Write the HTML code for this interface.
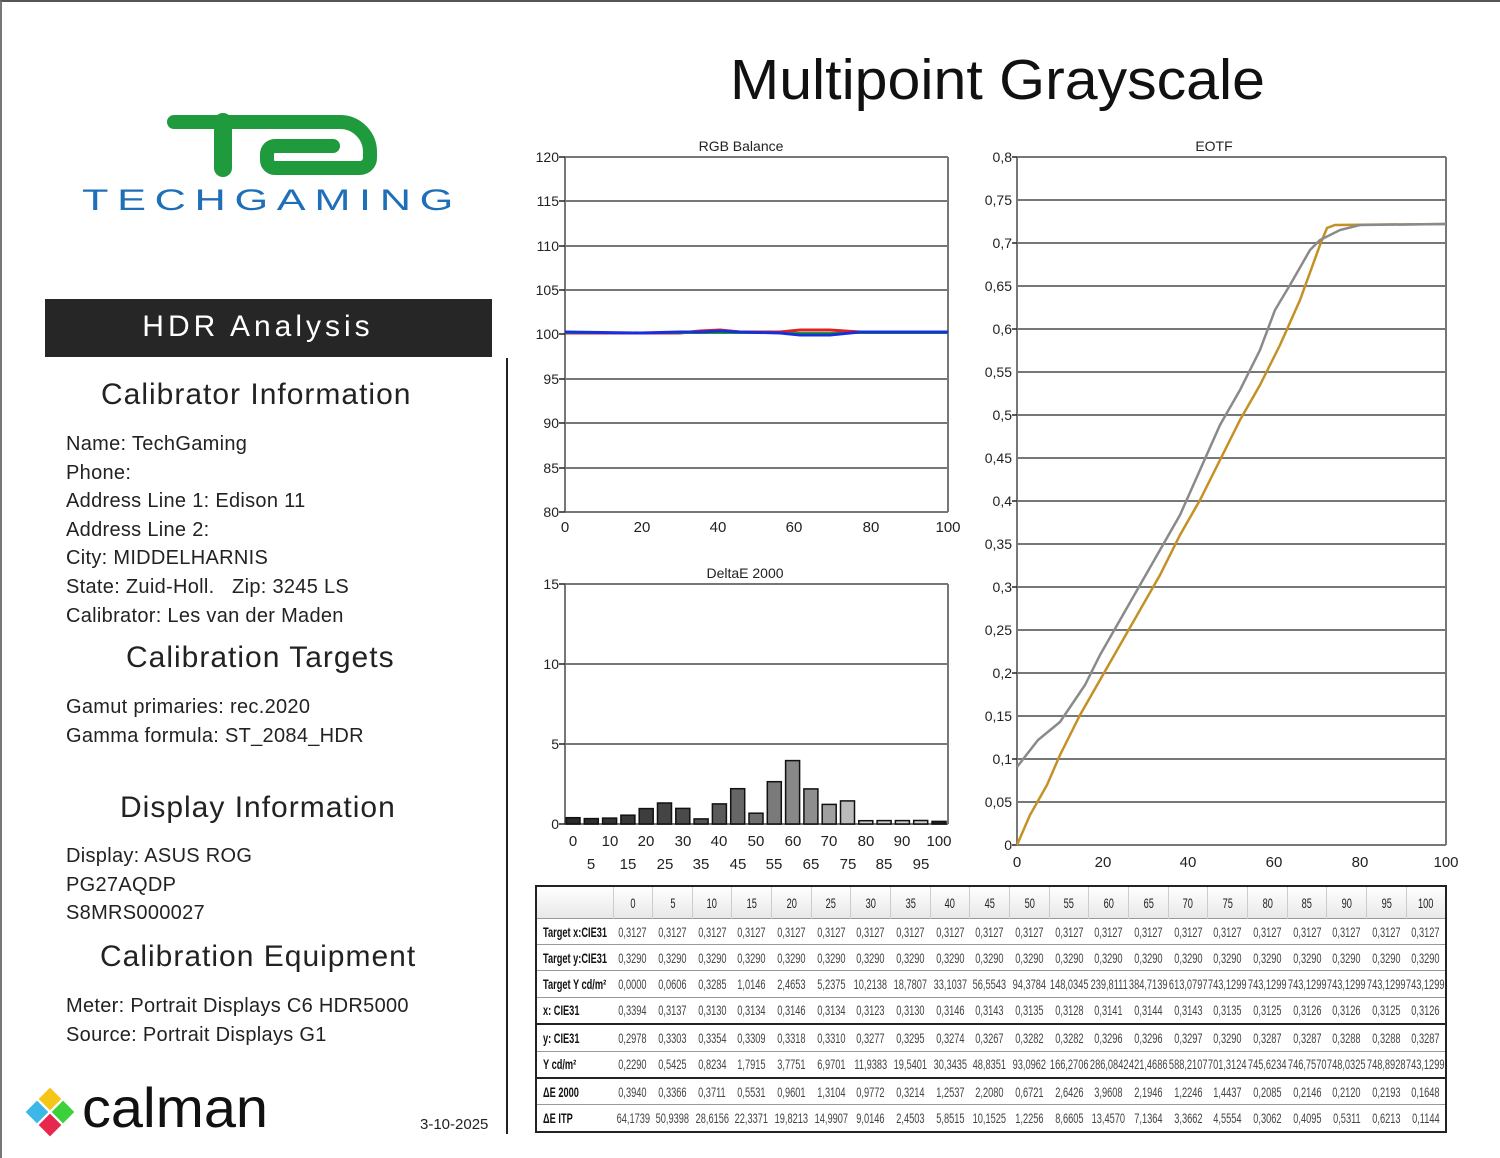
<!DOCTYPE html>
<html><head><meta charset="utf-8"><style>
html,body{margin:0;padding:0;background:#fff;}
body{width:1500px;height:1158px;position:relative;overflow:hidden;font-family:"Liberation Sans",sans-serif;}
#pg{position:absolute;left:0;top:0;width:1500px;height:1158px;border-top:2px solid #555;border-left:2px solid #777;box-sizing:border-box;}
.t{position:absolute;white-space:nowrap;color:#111;}
.h{font-size:30px;color:#222;letter-spacing:1px;}
.b{font-size:20px;color:#222;line-height:28.6px;letter-spacing:0.3px;}
table{position:absolute;left:535px;top:885px;width:912px;height:248px;border-collapse:collapse;font-family:"Liberation Sans",sans-serif;font-size:14px;color:#444;border:2px solid #222;table-layout:fixed;}
td{border-top:1px solid #999;padding:0;text-align:center;white-space:nowrap;overflow:hidden;}
td span{display:inline-block;margin:0 -15px;transform:scaleX(0.66);}
td.l{font-weight:bold;color:#111;text-align:left;padding-left:6px;}
td.l span{margin:0;transform:scaleX(0.66);transform-origin:0 50%;}
tr.hd td{background:linear-gradient(#fff,#e8e8e8);border-left:1px solid #ccc;color:#222;height:31px;}
tr.k td{border-top:2px solid #222;}
</style></head><body>
<div id="pg"></div>
<svg width="1500" height="1158" style="position:absolute;left:0;top:0" font-family="Liberation Sans, sans-serif">
<path d="M174,122 H340 A30,30 0 0 1 370,152 V158 A10,10 0 0 1 360,168 H275 A8,8 0 0 1 267,160 V154 A8,8 0 0 1 275,146 H333" fill="none" stroke="#1f9a3c" stroke-width="14" stroke-linecap="round" stroke-linejoin="round"/>
<path d="M223,122 V168" fill="none" stroke="#1f9a3c" stroke-width="18" stroke-linecap="round"/>
<text x="272" y="210" font-size="30" fill="#1e6fb8" text-anchor="middle" letter-spacing="6" textLength="380" lengthAdjust="spacingAndGlyphs">TECHGAMING</text>
<rect x="45" y="299" width="447" height="58" fill="#262626"/>
<text x="258" y="336" font-size="30" fill="#fff" text-anchor="middle" letter-spacing="4">HDR Analysis</text>
<line x1="507" y1="358" x2="507" y2="1134" stroke="#222" stroke-width="2"/>
<g transform="translate(50,1112)">
<rect x="-8" y="-8" width="16" height="16" fill="#f5c518" transform="translate(0,-13) rotate(45)"/>
<rect x="-8" y="-8" width="16" height="16" fill="#3cb7e8" transform="translate(-13,0) rotate(45)"/>
<rect x="-8" y="-8" width="16" height="16" fill="#3bd13b" transform="translate(13,0) rotate(45)"/>
<rect x="-8" y="-8" width="16" height="16" fill="#e8274f" transform="translate(0,13) rotate(45)"/>
</g>
<text x="82" y="1127" font-size="56" fill="#111" textLength="186" lengthAdjust="spacingAndGlyphs">calman</text>
<text x="420" y="1129" font-size="15" fill="#222">3-10-2025</text>
<text x="730" y="99" font-size="57" fill="#111" textLength="535" lengthAdjust="spacingAndGlyphs">Multipoint Grayscale</text>

<text x="741" y="151" font-size="14" text-anchor="middle" fill="#222">RGB Balance</text>
<g stroke="#777" stroke-width="2">
<line x1="565" y1="157" x2="948" y2="157"/><line x1="565" y1="201" x2="948" y2="201"/><line x1="565" y1="246" x2="948" y2="246"/><line x1="565" y1="290" x2="948" y2="290"/><line x1="565" y1="379" x2="948" y2="379"/><line x1="565" y1="423" x2="948" y2="423"/><line x1="565" y1="468" x2="948" y2="468"/><line x1="565" y1="512" x2="948" y2="512"/>
<line x1="565" y1="157" x2="565" y2="512"/><line x1="948" y1="157" x2="948" y2="512"/>
</g>
<g stroke="#222" stroke-width="1.5"><line x1="559" y1="157" x2="565" y2="157"/><line x1="559" y1="201" x2="565" y2="201"/><line x1="559" y1="246" x2="565" y2="246"/><line x1="559" y1="290" x2="565" y2="290"/><line x1="559" y1="334" x2="565" y2="334"/><line x1="559" y1="379" x2="565" y2="379"/><line x1="559" y1="423" x2="565" y2="423"/><line x1="559" y1="468" x2="565" y2="468"/><line x1="559" y1="512" x2="565" y2="512"/></g>
<g font-size="14" fill="#222" text-anchor="end"><text x="559" y="162">120</text><text x="559" y="206">115</text><text x="559" y="251">110</text><text x="559" y="295">105</text><text x="559" y="339">100</text><text x="559" y="384">95</text><text x="559" y="428">90</text><text x="559" y="473">85</text><text x="559" y="517">80</text></g>
<g font-size="15" fill="#222" text-anchor="middle"><text x="565" y="532">0</text><text x="642" y="532">20</text><text x="718" y="532">40</text><text x="794" y="532">60</text><text x="871" y="532">80</text><text x="948" y="532">100</text></g>
<polyline points="565,333 680,333 700,331 720,330 740,332 780,332 800,330 830,330 860,332 948,332" fill="none" stroke="#d22" stroke-width="3"/>
<polyline points="565,333 948,333" fill="none" stroke="#1a1" stroke-width="2"/>
<polyline points="565,332 640,333 680,332 700,332 720,331 740,332 780,333 800,335 830,335 860,332 948,332" fill="none" stroke="#1a2ee0" stroke-width="3"/>

<text x="745" y="578" font-size="14" text-anchor="middle" fill="#222">DeltaE 2000</text>
<g stroke="#777" stroke-width="2"><line x1="565" y1="584" x2="948" y2="584"/><line x1="565" y1="664" x2="948" y2="664"/><line x1="565" y1="744" x2="948" y2="744"/><line x1="565" y1="824" x2="948" y2="824"/><line x1="565" y1="584" x2="565" y2="824"/><line x1="948" y1="584" x2="948" y2="824"/></g>
<g stroke="#222" stroke-width="1.5"><line x1="559" y1="584" x2="565" y2="584"/><line x1="559" y1="664" x2="565" y2="664"/><line x1="559" y1="744" x2="565" y2="744"/><line x1="559" y1="824" x2="565" y2="824"/></g>
<g font-size="14" fill="#222" text-anchor="end"><text x="559" y="589">15</text><text x="559" y="669">10</text><text x="559" y="749">5</text><text x="559" y="829">0</text></g>
<g stroke="#111" stroke-width="1.5">
<rect x="566" y="817.7" width="14" height="6.3" fill="#2a2a2a"/>
<rect x="584.3" y="818.6" width="14" height="5.4" fill="#2e2e2e"/>
<rect x="602.6" y="818.1" width="14" height="5.9" fill="#333"/>
<rect x="620.9" y="815.2" width="14" height="8.8" fill="#383838"/>
<rect x="639.2" y="808.6" width="14" height="15.4" fill="#3d3d3d"/>
<rect x="657.5" y="803" width="14" height="21" fill="#444"/>
<rect x="675.8" y="808.4" width="14" height="15.6" fill="#4a4a4a"/>
<rect x="694.1" y="818.9" width="14" height="5.1" fill="#555"/>
<rect x="712.4" y="803.9" width="14" height="20.1" fill="#5a5a5a"/>
<rect x="730.7" y="788.7" width="14" height="35.3" fill="#666"/>
<rect x="749" y="813.2" width="14" height="10.8" fill="#6e6e6e"/>
<rect x="767.3" y="781.7" width="14" height="42.3" fill="#7a7a7a"/>
<rect x="785.6" y="760.6" width="14" height="63.4" fill="#888"/>
<rect x="803.9" y="788.9" width="14" height="35.1" fill="#8e8e8e"/>
<rect x="822.2" y="804.4" width="14" height="19.6" fill="#a0a0a0"/>
<rect x="840.5" y="800.9" width="14" height="23.1" fill="#bbb"/>
<rect x="858.8" y="820.7" width="14" height="3.3" fill="#ccc"/>
<rect x="877.1" y="820.6" width="14" height="3.4" fill="#ccc"/>
<rect x="895.4" y="820.6" width="14" height="3.4" fill="#ccc"/>
<rect x="913.7" y="820.5" width="14" height="3.5" fill="#ccc"/>
<rect x="932" y="821.4" width="14" height="2.6" fill="#222"/>
</g>
<g font-size="15" fill="#222" text-anchor="middle">
<text x="573" y="846">0</text><text x="610" y="846">10</text><text x="646" y="846">20</text><text x="683" y="846">30</text><text x="719" y="846">40</text><text x="756" y="846">50</text><text x="793" y="846">60</text><text x="829" y="846">70</text><text x="866" y="846">80</text><text x="902" y="846">90</text><text x="939" y="846">100</text>
<text x="591" y="869">5</text><text x="628" y="869">15</text><text x="665" y="869">25</text><text x="701" y="869">35</text><text x="738" y="869">45</text><text x="774" y="869">55</text><text x="811" y="869">65</text><text x="848" y="869">75</text><text x="884" y="869">85</text><text x="921" y="869">95</text>
</g>

<text x="1214" y="151" font-size="14" text-anchor="middle" fill="#222">EOTF</text>
<g stroke="#777" stroke-width="2">
<line x1="1017" y1="157" x2="1446" y2="157"/><line x1="1017" y1="200" x2="1446" y2="200"/><line x1="1017" y1="243" x2="1446" y2="243"/><line x1="1017" y1="286" x2="1446" y2="286"/><line x1="1017" y1="329" x2="1446" y2="329"/><line x1="1017" y1="372" x2="1446" y2="372"/><line x1="1017" y1="415" x2="1446" y2="415"/><line x1="1017" y1="458" x2="1446" y2="458"/><line x1="1017" y1="501" x2="1446" y2="501"/><line x1="1017" y1="544" x2="1446" y2="544"/><line x1="1017" y1="587" x2="1446" y2="587"/><line x1="1017" y1="630" x2="1446" y2="630"/><line x1="1017" y1="673" x2="1446" y2="673"/><line x1="1017" y1="716" x2="1446" y2="716"/><line x1="1017" y1="759" x2="1446" y2="759"/><line x1="1017" y1="802" x2="1446" y2="802"/><line x1="1017" y1="845" x2="1446" y2="845"/>
<line x1="1017" y1="157" x2="1017" y2="845"/><line x1="1446" y1="157" x2="1446" y2="845"/>
</g>
<g stroke="#222" stroke-width="1.5"><line x1="1012" y1="157" x2="1017" y2="157"/><line x1="1012" y1="243" x2="1017" y2="243"/><line x1="1012" y1="329" x2="1017" y2="329"/><line x1="1012" y1="415" x2="1017" y2="415"/><line x1="1012" y1="501" x2="1017" y2="501"/><line x1="1012" y1="587" x2="1017" y2="587"/><line x1="1012" y1="673" x2="1017" y2="673"/><line x1="1012" y1="759" x2="1017" y2="759"/><line x1="1012" y1="845" x2="1017" y2="845"/></g>
<g font-size="14" fill="#222" text-anchor="end">
<text x="1012" y="162">0,8</text><text x="1012" y="205">0,75</text><text x="1012" y="248">0,7</text><text x="1012" y="291">0,65</text><text x="1012" y="334">0,6</text><text x="1012" y="377">0,55</text><text x="1012" y="420">0,5</text><text x="1012" y="463">0,45</text><text x="1012" y="506">0,4</text><text x="1012" y="549">0,35</text><text x="1012" y="592">0,3</text><text x="1012" y="635">0,25</text><text x="1012" y="678">0,2</text><text x="1012" y="721">0,15</text><text x="1012" y="764">0,1</text><text x="1012" y="807">0,05</text><text x="1012" y="850">0</text>
</g>
<g font-size="15" fill="#222" text-anchor="middle"><text x="1017" y="867">0</text><text x="1103" y="867">20</text><text x="1188" y="867">40</text><text x="1274" y="867">60</text><text x="1360" y="867">80</text><text x="1446" y="867">100</text></g>
<polyline points="1017,845 1030,815 1047,785 1060,755 1080,715 1100,680 1120,645 1140,610 1160,575 1180,535 1200,500 1220,460 1240,420 1260,385 1280,345 1300,300 1320,245 1327,228 1335,225 1446,224" fill="none" stroke="#c39126" stroke-width="2.5"/>
<polyline points="1017,767 1038,740 1060,722 1085,685 1100,655 1120,620 1140,585 1160,550 1180,515 1200,470 1220,425 1240,390 1260,350 1275,310 1290,285 1310,250 1320,240 1340,230 1360,225 1446,224" fill="none" stroke="#8a8a8a" stroke-width="2.5"/>
</svg>

<div class="t h" style="left:101px;top:378px">Calibrator Information</div>
<div class="t b" style="left:66px;top:430px">Name: TechGaming<br>Phone:<br>Address Line 1: Edison 11<br>Address Line 2:<br>City: MIDDELHARNIS<br>State: Zuid-Holl.&nbsp;&nbsp;&nbsp;Zip: 3245 LS<br>Calibrator: Les van der Maden</div>
<div class="t h" style="left:126px;top:641px">Calibration Targets</div>
<div class="t b" style="left:66px;top:693px">Gamut primaries: rec.2020<br>Gamma formula: ST_2084_HDR</div>
<div class="t h" style="left:120px;top:791px">Display Information</div>
<div class="t b" style="left:66px;top:842px">Display: ASUS ROG<br>PG27AQDP<br>S8MRS000027</div>
<div class="t h" style="left:100px;top:940px">Calibration Equipment</div>
<div class="t b" style="left:66px;top:992px">Meter: Portrait Displays C6 HDR5000<br>Source: Portrait Displays G1</div>

<table>
<colgroup><col style="width:77px"><col span="21"></colgroup>
<tr class="hd"><td style="border-left:none"></td><td><span>0</span></td><td><span>5</span></td><td><span>10</span></td><td><span>15</span></td><td><span>20</span></td><td><span>25</span></td><td><span>30</span></td><td><span>35</span></td><td><span>40</span></td><td><span>45</span></td><td><span>50</span></td><td><span>55</span></td><td><span>60</span></td><td><span>65</span></td><td><span>70</span></td><td><span>75</span></td><td><span>80</span></td><td><span>85</span></td><td><span>90</span></td><td><span>95</span></td><td><span>100</span></td></tr>
<tr><td class="l"><span>Target x:CIE31</span></td><td><span>0,3127</span></td><td><span>0,3127</span></td><td><span>0,3127</span></td><td><span>0,3127</span></td><td><span>0,3127</span></td><td><span>0,3127</span></td><td><span>0,3127</span></td><td><span>0,3127</span></td><td><span>0,3127</span></td><td><span>0,3127</span></td><td><span>0,3127</span></td><td><span>0,3127</span></td><td><span>0,3127</span></td><td><span>0,3127</span></td><td><span>0,3127</span></td><td><span>0,3127</span></td><td><span>0,3127</span></td><td><span>0,3127</span></td><td><span>0,3127</span></td><td><span>0,3127</span></td><td><span>0,3127</span></td></tr>
<tr><td class="l"><span>Target y:CIE31</span></td><td><span>0,3290</span></td><td><span>0,3290</span></td><td><span>0,3290</span></td><td><span>0,3290</span></td><td><span>0,3290</span></td><td><span>0,3290</span></td><td><span>0,3290</span></td><td><span>0,3290</span></td><td><span>0,3290</span></td><td><span>0,3290</span></td><td><span>0,3290</span></td><td><span>0,3290</span></td><td><span>0,3290</span></td><td><span>0,3290</span></td><td><span>0,3290</span></td><td><span>0,3290</span></td><td><span>0,3290</span></td><td><span>0,3290</span></td><td><span>0,3290</span></td><td><span>0,3290</span></td><td><span>0,3290</span></td></tr>
<tr><td class="l"><span>Target Y cd/m²</span></td><td><span>0,0000</span></td><td><span>0,0606</span></td><td><span>0,3285</span></td><td><span>1,0146</span></td><td><span>2,4653</span></td><td><span>5,2375</span></td><td><span>10,2138</span></td><td><span>18,7807</span></td><td><span>33,1037</span></td><td><span>56,5543</span></td><td><span>94,3784</span></td><td><span>148,0345</span></td><td><span>239,8111</span></td><td><span>384,7139</span></td><td><span>613,0797</span></td><td><span>743,1299</span></td><td><span>743,1299</span></td><td><span>743,1299</span></td><td><span>743,1299</span></td><td><span>743,1299</span></td><td><span>743,1299</span></td></tr>
<tr><td class="l"><span>x: CIE31</span></td><td><span>0,3394</span></td><td><span>0,3137</span></td><td><span>0,3130</span></td><td><span>0,3134</span></td><td><span>0,3146</span></td><td><span>0,3134</span></td><td><span>0,3123</span></td><td><span>0,3130</span></td><td><span>0,3146</span></td><td><span>0,3143</span></td><td><span>0,3135</span></td><td><span>0,3128</span></td><td><span>0,3141</span></td><td><span>0,3144</span></td><td><span>0,3143</span></td><td><span>0,3135</span></td><td><span>0,3125</span></td><td><span>0,3126</span></td><td><span>0,3126</span></td><td><span>0,3125</span></td><td><span>0,3126</span></td></tr>
<tr class="k"><td class="l"><span>y: CIE31</span></td><td><span>0,2978</span></td><td><span>0,3303</span></td><td><span>0,3354</span></td><td><span>0,3309</span></td><td><span>0,3318</span></td><td><span>0,3310</span></td><td><span>0,3277</span></td><td><span>0,3295</span></td><td><span>0,3274</span></td><td><span>0,3267</span></td><td><span>0,3282</span></td><td><span>0,3282</span></td><td><span>0,3296</span></td><td><span>0,3296</span></td><td><span>0,3297</span></td><td><span>0,3290</span></td><td><span>0,3287</span></td><td><span>0,3287</span></td><td><span>0,3288</span></td><td><span>0,3288</span></td><td><span>0,3287</span></td></tr>
<tr><td class="l"><span>Y cd/m²</span></td><td><span>0,2290</span></td><td><span>0,5425</span></td><td><span>0,8234</span></td><td><span>1,7915</span></td><td><span>3,7751</span></td><td><span>6,9701</span></td><td><span>11,9383</span></td><td><span>19,5401</span></td><td><span>30,3435</span></td><td><span>48,8351</span></td><td><span>93,0962</span></td><td><span>166,2706</span></td><td><span>286,0842</span></td><td><span>421,4686</span></td><td><span>588,2107</span></td><td><span>701,3124</span></td><td><span>745,6234</span></td><td><span>746,7570</span></td><td><span>748,0325</span></td><td><span>748,8928</span></td><td><span>743,1299</span></td></tr>
<tr class="k"><td class="l"><span>ΔE 2000</span></td><td><span>0,3940</span></td><td><span>0,3366</span></td><td><span>0,3711</span></td><td><span>0,5531</span></td><td><span>0,9601</span></td><td><span>1,3104</span></td><td><span>0,9772</span></td><td><span>0,3214</span></td><td><span>1,2537</span></td><td><span>2,2080</span></td><td><span>0,6721</span></td><td><span>2,6426</span></td><td><span>3,9608</span></td><td><span>2,1946</span></td><td><span>1,2246</span></td><td><span>1,4437</span></td><td><span>0,2085</span></td><td><span>0,2146</span></td><td><span>0,2120</span></td><td><span>0,2193</span></td><td><span>0,1648</span></td></tr>
<tr><td class="l"><span>ΔE ITP</span></td><td><span>64,1739</span></td><td><span>50,9398</span></td><td><span>28,6156</span></td><td><span>22,3371</span></td><td><span>19,8213</span></td><td><span>14,9907</span></td><td><span>9,0146</span></td><td><span>2,4503</span></td><td><span>5,8515</span></td><td><span>10,1525</span></td><td><span>1,2256</span></td><td><span>8,6605</span></td><td><span>13,4570</span></td><td><span>7,1364</span></td><td><span>3,3662</span></td><td><span>4,5554</span></td><td><span>0,3062</span></td><td><span>0,4095</span></td><td><span>0,5311</span></td><td><span>0,6213</span></td><td><span>0,1144</span></td></tr>
</table>
</body></html>
